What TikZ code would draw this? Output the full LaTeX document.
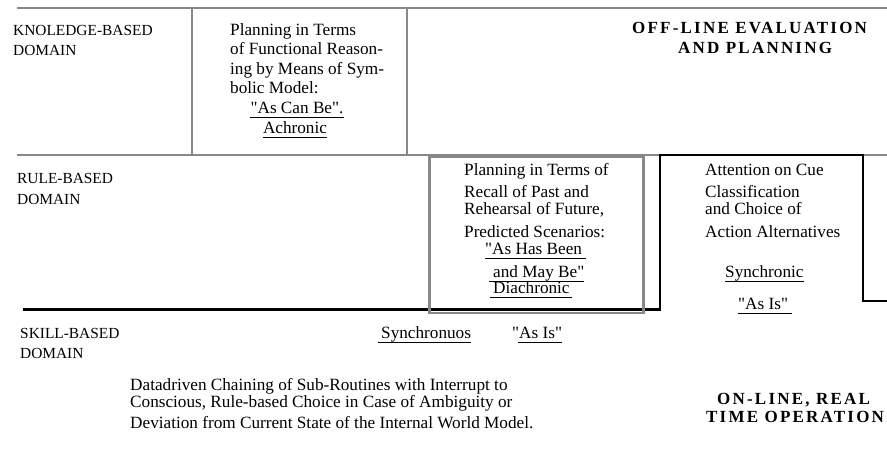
\documentclass[tikz,border=0pt]{standalone}
\usepackage{fontspec}
\setmainfont{Liberation Serif}[Ligatures=TeXOff]
\newfontfamily\spacedfont[LetterSpace=13]{Liberation Serif}
\usetikzlibrary{calc}
\definecolor{rulegray}{HTML}{888888}
\tikzset{
  txt/.style={anchor=base west, inner sep=0pt, font=\fontsize{17.2}{19}\selectfont},
  dom/.style={anchor=base west, inner sep=0pt, font=\fontsize{15.4}{19}\selectfont},
  captxt/.style={anchor=base west, inner sep=0pt, font=\spacedfont\bfseries\fontsize{17}{20}\selectfont},
  grayline/.style={draw=rulegray, line width=2.5pt},
  blackline/.style={draw=black, line width=2.6pt},
  uline/.style={draw=black, line width=1.1pt}
}
\begin{document}
\begin{tikzpicture}[x=1pt,y=-1pt]
\path[use as bounding box] (0,0) rectangle (887,455);
% coordinates of the frame
\coordinate (tl) at (17,8);
\coordinate (tr) at (887,8);
\coordinate (ml) at (17,155);
\coordinate (mr) at (887,155);
\coordinate (v1t) at (192,8);
\coordinate (v1b) at (192,155);
\coordinate (v2t) at (407,8);
\coordinate (v2b) at (407,155);
\coordinate (bl) at (23,309.5);
\coordinate (b1) at (660,309.5);
\coordinate (b2) at (660,155);
\coordinate (b3) at (863,155);
\coordinate (b4) at (863,301);
\coordinate (b5) at (887,301);
% gray frame
\draw[grayline] (tl) -- (tr);
\draw[grayline] (ml) -- (mr);
\draw[grayline] (v1t) -- (v1b);
\draw[grayline] (v2t) -- (v2b);
% black boundary
\draw[blackline, line join=miter] (bl) -- (b1) -- (b2) -- (b3) -- (b4) -- (b5);
% rule box
\node[draw=rulegray, line width=2.5pt, inner sep=0pt, minimum width=214pt, minimum height=156.5pt, anchor=north west] (rbox) at (428,155) {};

% domain labels
\node[dom] (kb1) at (13,35) {KNOLEDGE-BASED};
\node[dom] (kb2) at (13,55) {DOMAIN};
\node[dom] (rb1) at (17,183) {RULE-BASED};
\node[dom] (rb2) at (17,204) {DOMAIN};
\node[dom] (sb1) at (20,338) {SKILL-BASED};
\node[dom] (sb2) at (20,358) {DOMAIN};

% knowledge box text
\node[txt] (k1) at (230,35) {Planning in Terms};
\node[txt] (k2) at (230,54.5) {of Functional Reason-};
\node[txt] (k3) at (230,74) {ing by Means of Sym-};
\node[txt] (k4) at (230,93) {bolic Model:};
\node[txt, anchor=base] (k5) at (297,113) {"As Can Be".};
\node[txt, anchor=base] (k6) at (295,133) {Achronic};
\draw[uline] ($(k5.base west)+(0,4.5)$) -- ($(k5.base east)+(0,4.5)$);
\draw[uline] ($(k6.base west)+(0,4.5)$) -- ($(k6.base east)+(0,4.5)$);

% off-line caption
\node[captxt] (off1) at (632,33) {OFF-LINE EVALUATION};
\node[captxt] (off2) at (678,53) {AND PLANNING};

% rule box text
\node[txt] (r1) at (464,175) {Planning in Terms of};
\node[txt] (r2) at (464,197) {Recall of Past and};
\node[txt] (r3) at (464,214) {Rehearsal of Future,};
\node[txt] (r4) at (464,237) {Predicted Scenarios:};
\node[txt] (r5) at (485,254) {"As Has Been};
\node[txt] (r6) at (493,277) {and May Be"};
\node[txt] (r7) at (493,293) {Diachronic};
\draw[uline] ($(r5.base west)+(0,4.5)$) -- ($(r5.base east)+(4,4.5)$);
\draw[uline] ($(r6.base west)+(-4,4.5)$) -- ($(r6.base east)+(0,4.5)$);
\draw[uline] ($(r7.base west)+(-3,4.5)$) -- ($(r7.base east)+(2,4.5)$);

% attention text
\node[txt] (a1) at (705,175) {Attention on Cue};
\node[txt] (a2) at (705,197) {Classification};
\node[txt] (a3) at (705,214) {and Choice of};
\node[txt] (a4) at (705,237) {Action Alternatives};
\node[txt] (a5) at (725,277) {Synchronic};
\node[txt] (a6) at (738,309) {"As Is"};
\draw[uline] ($(a5.base west)+(0,4.5)$) -- ($(a5.base east)+(0,4.5)$);
\draw[uline] ($(a6.base west)+(0,4.5)$) -- ($(a6.base east)+(4,4.5)$);

% skill level text
\node[txt] (s1) at (381,338) {Synchronuos};
\node[txt] (s2) at (512,338) {"As Is"};
\draw[uline] ($(s1.base west)+(-3,4.5)$) -- ($(s1.base east)+(0,4.5)$);
\draw[uline] ($(s2.base west)+(6,4.5)$) -- ($(s2.base east)+(0,4.5)$);

\node[txt] (d1) at (130,390) {Datadriven Chaining of Sub-Routines with Interrupt to};
\node[txt] (d2) at (130,407) {Conscious, Rule-based Choice in Case of Ambiguity or};
\node[txt] (d3) at (130,428) {Deviation from Current State of the Internal World Model.};

% on-line caption
\node[captxt] (on1) at (717,404) {ON-LINE, REAL};
\node[captxt] (on2) at (706,422) {TIME OPERATION};
\end{tikzpicture}
\end{document}
